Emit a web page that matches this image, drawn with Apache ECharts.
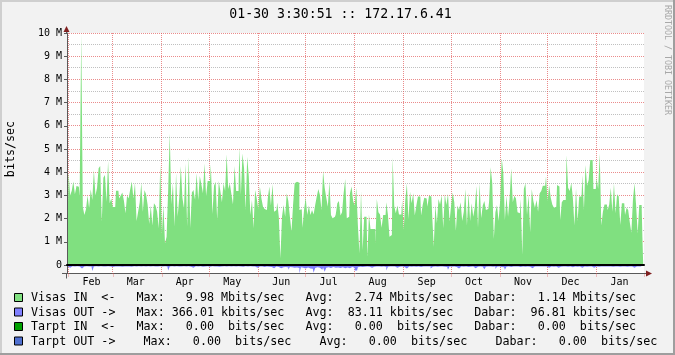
<!DOCTYPE html>
<html><head><meta charset="utf-8">
<script src="https://cdn.jsdelivr.net/npm/echarts@6/dist/echarts.min.js"></script>
<style>html,body{margin:0;padding:0;background:#f2f2f2}#c{width:675px;height:355px}</style>
</head><body><div id="c"></div>
<script>
// ---------- data ----------
const chartTitle = '01-30 3:30:51 :: 172.17.6.41';
const yAxisTitle = 'bits/sec';
const watermark = 'RRDTOOL / TOBI OETIKER';
const monthNames = ['Jan','Feb','Mar','Apr','May','Jun','Jul','Aug','Sep','Oct','Nov','Dec'];
const monthLengths = [31,28,31,30,31,30,31,31,30,31,30,31];
const firstMonth = 0;   // first day shown: Jan 31
const firstDay = 31;
const dayCount = 365;
const yTickValues = [0,1,2,3,4,5,6,7,8,9,10];   // Mbits/sec

// Visas IN, daily, Mbits/sec
const visasIn = [
 2.15,3.98,3.0,3.2,3.6,3.05,3.4,3.37,2.95,9.98,
 2.5,2.15,2.4,3.0,2.45,3.27,2.8,4.1,3.0,3.33,
 4.17,4.27,1.87,3.76,3.88,2.73,4.48,2.66,2.87,2.5,
 2.5,3.2,3.2,2.87,3.0,3.13,2.77,2.23,3.0,2.87,
 3.27,3.6,2.87,3.55,1.9,2.3,2.7,3.55,2.3,3.23,
 3.05,2.6,1.77,2.56,1.7,2.66,2.56,2.3,1.58,4.34,
 1.32,2.56,
 0.93,1.22,3.23,5.68,2.61,3.52,1.65,3.95,2.08,2.9,
 4.27,2.9,2.44,4.38,1.65,4.67,1.58,3.13,3.23,2.8,
 3.95,2.8,3.84,3.48,3.09,4.38,2.97,3.62,3.62,4.34,
 2.2,3.42,3.59,1.94,3.62,3.19,2.7,3.52,3.19,4.77,
 3.28,3.52,3.05,2.61,4.27,3.19,3.19,5.09,3.02,4.81,
 4.17,2.37,4.67,3.81,2.16,2.8,1.58,3.23,2.87,2.41,
 3.38,2.87,2.51,2.41,2.37,2.87,3.38,2.56,3.48,2.3,
 2.37,2.69,2.07,0.29,2.08,2.59,2.08,3.09,2.76,2.08,
 1.44,2.59,3.52,3.59,3.55,2.37,2.4,1.61,2.4,2.9,
 2.16,2.56,2.16,2.37,2.18,2.59,2.95,3.28,3.02,2.37,
 4.05,3.33,2.9,2.51,3.59,2.16,2.01,2.08,2.18,2.66,
 2.76,2.13,2.27,3.09,3.71,2.01,2.08,3.09,3.38,2.76,
 2.56,
 3.33,1.72,0.5,3.19,0.65,2.08,2.08,0.36,2.18,1.55,
 1.55,1.55,0.89,2.84,2.27,2.18,1.61,2.16,2.16,2.7,
 2.18,1.22,1.29,4.63,2.54,2.23,2.56,2.18,2.18,2.8,
 1.51,2.8,3.51,1.98,3.16,2.66,3.09,2.13,2.56,2.95,
 2.95,2.13,2.59,2.9,2.87,2.51,2.99,2.95,2.16,0.79,
 2.59,1.8,2.84,2.61,3.02,1.58,3.05,2.59,3.07,1.87,
 2.59,3.13,2.7,1.47,2.56,2.37,2.7,1.9,2.3,3.28,
 1.7,3.13,1.9,2.66,2.08,2.51,3.41,1.61,3.52,2.01,
 2.56,2.76,2.37,2.41,2.73,4.21,3.52,1.12,2.27,2.59,
 1.9,2.76,4.6,3.99,1.94,2.99,2.08,2.9,4.17,2.7,
 2.99,2.87,2.27,2.23,2.84,0.43,3.28,3.52,2.16,3.02,
 1.41,3.28,2.76,2.47,2.8,2.3,3.09,3.19,3.42,3.42,
 3.81,
 2.76,3.45,2.9,2.61,2.47,2.51,3.45,3.38,1.94,2.7,
 2.8,2.8,4.74,3.33,3.19,3.55,2.9,1.7,3.3,1.9,
 2.95,2.95,3.88,2.37,4.31,3.42,3.66,4.53,4.53,3.28,
 3.28,3.74,3.28,4.81,1.7,2.3,2.61,2.61,2.37,2.61,
 3.33,2.3,3.52,2.23,3.05,2.95,1.72,2.66,2.66,2.16,
 2.47,2.37,1.84,1.39,2.8,3.52,2.59,1.36,2.59,2.59,
 1.18
];

// Visas OUT, daily, Mbits/sec (drawn below zero)
const visasOut = [
 0.06,0.12,0.07,0.05,0.06,0.08,0.05,0.07,0.06,0.15,0.07,0.12,0.05,0.06,0.08,0.06,0.26,0.07,0.05,0.06,
 0.07,0.05,0.06,0.08,0.06,0.05,0.07,0.06,0.09,0.05,0.06,0.07,0.05,0.06,0.08,0.05,0.06,0.07,0.05,0.06,
 0.08,0.06,0.05,0.07,0.06,0.05,0.06,0.08,0.05,0.07,0.06,0.05,0.06,0.07,0.05,0.06,0.08,0.06,0.05,0.07,
 0.06,0.05,0.08,0.06,0.24,0.07,0.05,0.06,0.07,0.05,0.06,0.08,0.06,0.05,0.07,0.06,0.05,0.06,0.08,0.12,
 0.06,0.05,0.07,0.06,0.05,0.08,0.06,0.07,0.05,0.06,0.08,0.05,0.06,0.07,0.06,0.05,0.08,0.06,0.07,0.05,
 0.06,0.08,0.05,0.07,0.06,0.05,0.06,0.09,0.05,0.07,0.06,0.08,0.05,0.06,0.07,0.05,0.08,0.06,0.07,0.09,
 0.12,0.07,0.08,0.06,0.09,0.07,0.06,0.08,0.07,0.09,0.14,0.08,0.07,0.09,0.1,0.14,0.1,0.08,0.09,0.11,
 0.2,0.09,0.1,0.12,0.08,0.11,0.13,0.366,0.1,0.12,0.15,0.2,0.11,0.15,0.12,0.16,0.33,0.13,0.1,0.12,
 0.14,0.2,0.11,0.29,0.12,0.1,0.13,0.11,0.09,0.12,0.1,0.11,0.13,0.2,0.1,0.14,0.09,0.11,0.14,0.1,
 0.09,0.12,0.24,0.24,0.1,0.08,0.09,0.11,0.08,0.07,0.09,0.08,0.12,0.07,0.08,0.06,0.09,0.07,0.08,0.06,
 0.07,0.09,0.24,0.08,0.07,0.06,0.08,0.07,0.12,0.06,0.08,0.07,0.06,0.09,0.15,0.07,0.06,0.08,0.07,0.06,
 0.08,0.07,0.06,0.09,0.12,0.07,0.06,0.08,0.07,0.06,0.15,0.08,0.07,0.06,0.08,0.07,0.14,0.06,0.08,0.07,
 0.09,0.2,0.07,0.08,0.06,0.07,0.09,0.15,0.07,0.06,0.08,0.07,0.06,0.09,0.07,0.08,0.06,0.07,0.14,0.08,
 0.07,0.06,0.08,0.07,0.18,0.08,0.06,0.07,0.09,0.08,0.07,0.17,0.08,0.07,0.09,0.08,0.1,0.2,0.08,0.07,
 0.09,0.08,0.07,0.06,0.08,0.07,0.09,0.06,0.07,0.08,0.06,0.07,0.08,0.06,0.14,0.07,0.08,0.06,0.07,0.08,
 0.06,0.07,0.08,0.06,0.12,0.07,0.06,0.08,0.07,0.06,0.12,0.07,0.08,0.06,0.07,0.06,0.08,0.07,0.06,0.1,
 0.07,0.06,0.08,0.07,0.06,0.12,0.07,0.06,0.08,0.06,0.07,0.06,0.08,0.12,0.07,0.06,0.08,0.07,0.06,0.07,
 0.06,0.08,0.07,0.06,0.07,0.08,0.06,0.07,0.06,0.08,0.07,0.06,0.07,0.06,0.08,0.07,0.06,0.07,0.12,0.06,
 0.07,0.06,0.08,0.07,0.06
];

const legendLines = [
 'Visas IN  <-   Max:   9.98 Mbits/sec   Avg:   2.74 Mbits/sec   Dabar:   1.14 Mbits/sec',
 'Visas OUT ->   Max: 366.01 kbits/sec   Avg:  83.11 kbits/sec   Dabar:  96.81 kbits/sec',
 'Tarpt IN  <-   Max:   0.00  bits/sec   Avg:   0.00  bits/sec   Dabar:   0.00  bits/sec',
 'Tarpt OUT ->    Max:   0.00  bits/sec    Avg:   0.00  bits/sec    Dabar:   0.00  bits/sec'
];
const legendColors = ['#80e080','#8080ff','#00a000','#5070d0'];

// ---------- styles / layout ----------
const MONO = '"DejaVu Sans Mono", monospace';
const IN_COLOR = '#80e080', OUT_COLOR = '#8080ff';
const MGRID = 'rgba(222,79,79,0.65)';
const GRID = 'rgba(150,150,150,0.6)';
const AXIS = '#5a5a5a';
const ARROW = '#801f1f';
const L = 67, R = 644, TOP = 33, PX_PER_M = 23.2;
const yMax = 10, yMin = -0.366;
const zeroY = TOP + yMax * PX_PER_M;
const bottomY = zeroY - yMin * PX_PER_M;

// categories (one per day)
const catMonth = [], catDay = [];
(function(){ let m = firstMonth, d = firstDay;
  for (let i = 0; i < dayCount; i++) { catMonth.push(m); catDay.push(d); d++; if (d > monthLengths[m]) { d = 1; m = (m + 1) % 12; } } })();
const categories = catMonth.map((m, i) => monthNames[m] + ' ' + catDay[i]);

const legendRowY = [298, 312.5, 327, 341.5];
const graphics = [
  {type:'rect', shape:{x:0,y:0,width:675,height:2}, style:{fill:'#cfcfcf'}, silent:true},
  {type:'rect', shape:{x:0,y:0,width:2,height:355}, style:{fill:'#cfcfcf'}, silent:true},
  {type:'rect', shape:{x:673,y:0,width:2,height:355}, style:{fill:'#9e9e9e'}, silent:true},
  {type:'rect', shape:{x:0,y:353,width:675,height:2}, style:{fill:'#9e9e9e'}, silent:true},
  {type:'text', x:340.5, y:15, style:{text:chartTitle, fontFamily:MONO, fontSize:13.2, fill:'#000', align:'center', verticalAlign:'middle'}, silent:true},
  {type:'text', x:11, y:149, rotation:Math.PI/2, style:{text:yAxisTitle, fontFamily:MONO, fontSize:11.7, fill:'#000', align:'center', verticalAlign:'middle'}, silent:true},
  {type:'text', x:667.5, y:60, rotation:-Math.PI/2, style:{text:watermark, fontFamily:MONO, fontSize:8.3, fill:'#a8a8a8', align:'center', verticalAlign:'middle'}, silent:true},
  // axis extensions + arrows
  {type:'line', shape:{x1:L-0.5,y1:TOP-4,x2:L-0.5,y2:TOP}, style:{stroke:AXIS,lineWidth:1}, silent:true, z:10},
  {type:'line', shape:{x1:L-0.5,y1:bottomY,x2:L-0.5,y2:bottomY+5}, style:{stroke:AXIS,lineWidth:1}, silent:true, z:10},
  {type:'line', shape:{x1:L-5,y1:bottomY,x2:L,y2:bottomY}, style:{stroke:AXIS,lineWidth:1}, silent:true, z:10},
  {type:'line', shape:{x1:R,y1:bottomY,x2:R+3,y2:bottomY}, style:{stroke:AXIS,lineWidth:1}, silent:true, z:10},
  {type:'polygon', shape:{points:[[L-0.5,TOP-7],[L-3.5,TOP-1],[L+2.5,TOP-1]]}, style:{fill:ARROW}, silent:true, z:10},
  {type:'polygon', shape:{points:[[R+8,bottomY],[R+2,bottomY-3],[R+2,bottomY+3]]}, style:{fill:ARROW}, silent:true, z:10}
];
legendLines.forEach((t, i) => {
  graphics.push({type:'rect', shape:{x:14.5,y:legendRowY[i]-4.5,width:8,height:8}, style:{fill:legendColors[i], stroke:'#000', lineWidth:1}, silent:true});
  graphics.push({type:'text', x:31, y:legendRowY[i], style:{text:t, fontFamily:MONO, fontSize:11.7, fill:'#000', align:'left', verticalAlign:'middle'}, silent:true});
});

const areaSeries = (name, data, color) => ({
  name, type:'line', xAxisIndex:0, yAxisIndex:0, data, step:'middle', symbol:'none', showSymbol:false,
  lineStyle:{width:0, opacity:0}, areaStyle:{color, opacity:1, origin:0}, silent:true, z:2
});

const chart = echarts.init(document.getElementById('c'), null, {renderer:'canvas'});
chart.setOption({
  animation: false,
  backgroundColor: '#f2f2f2',
  grid: [
    {left:L, width:R-L, top:TOP, height:bottomY-TOP, show:true, backgroundColor:'#ffffff', borderWidth:0},
    {left:L, width:R-L, top:TOP, height:zeroY-TOP, show:false}
  ],
  xAxis: [
    {gridIndex:0, type:'category', data:categories, boundaryGap:true,
     axisLine:{show:true, onZero:false, lineStyle:{color:AXIS, width:1}},
     axisTick:{show:true, interval:(i)=>catDay[i]===1, length:4, lineStyle:{color:MGRID, type:'dotted'}},
     axisLabel:{interval:(i)=>catDay[i]===15, formatter:(v,i)=>monthNames[catMonth[i]], fontFamily:MONO, fontSize:10, color:'#000', margin:4},
     splitLine:{show:false}},
    {gridIndex:1, type:'value', min:0, max:1, z:6,
     axisLine:{show:true, onZero:false, lineStyle:{color:'#000', width:2}},
     axisTick:{show:false}, axisLabel:{show:false}, splitLine:{show:false}}
  ],
  yAxis: [
    {gridIndex:0, type:'value', min:yMin, max:yMax, z:5,
     axisLine:{show:true, lineStyle:{color:AXIS, width:1}}, axisTick:{show:false}, axisLabel:{show:false}, splitLine:{show:false}},
    {gridIndex:1, type:'value', min:yTickValues[0], max:yTickValues[yTickValues.length-1], interval:yTickValues[1]-yTickValues[0],
     axisLine:{show:false},
     axisTick:{show:true, length:3, lineStyle:{color:AXIS}},
     axisLabel:{formatter:(v)=> v===0 ? '0' : v + ' M', fontFamily:MONO, fontSize:10, color:'#000', margin:5},
     splitLine:{show:false}}
  ],
  series: [
    areaSeries('Visas IN', visasIn, IN_COLOR),
    areaSeries('Visas OUT', visasOut.map(v=>-v), OUT_COLOR)
  ],
  graphic: graphics
});

// dotted grid lines placed through the chart's own axis scales
const gridLines = [];
const crisp = p => Math.round(p - 0.5) + 0.5;
const yPix = v => chart.convertToPixel({yAxisIndex:1}, v);
const xPix = i => chart.convertToPixel({xAxisIndex:0}, i);
const dotted = (x1, y1, x2, y2, color) => gridLines.push({type:'line', shape:{x1, y1, x2, y2}, style:{stroke:color, lineWidth:1, lineDash:[1,1]}, silent:true, z:1});
for (let k = 0; k < yTickValues.length - 1; k++) {
  const mid = (yTickValues[k] + yTickValues[k+1]) / 2;
  const ym = crisp(yPix(mid));
  dotted(L, ym, R, ym, GRID);
  const yM = crisp(yPix(yTickValues[k+1]));
  dotted(L, yM, R, yM, MGRID);
}
const band = xPix(1) - xPix(0);
for (let i = 0; i < dayCount; i++) {
  if (catDay[i] === 1) {
    const x = crisp(xPix(i) - band / 2);
    dotted(x, TOP, x, bottomY, MGRID);
  }
}
chart.setOption({graphic: graphics.concat(gridLines)});
</script></body></html>
